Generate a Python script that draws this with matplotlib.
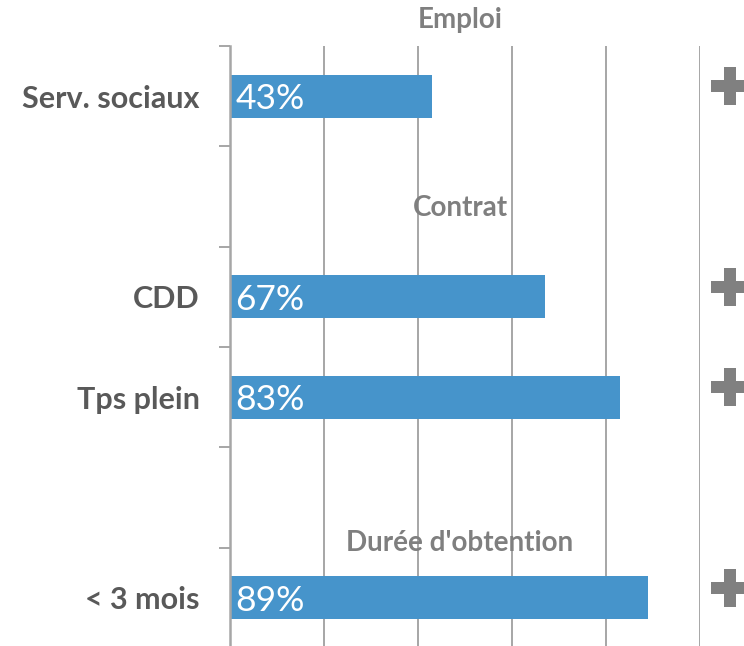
import numpy as np
import matplotlib.pyplot as plt
import matplotlib.patches as mpatches

plt.rcParams['font.family'] = ['Lato', 'DejaVu Sans']

categories = ["Serv. sociaux", "", "CDD", "Tps plein", "", "< 3 mois"]
values = [43, np.nan, 67, 83, np.nan, 89]
value_labels = ["43%", "", "67%", "83%", "", "89%"]
headers = ["Emploi", "Contrat", "Durée d'obtention"]
header_pos = [-0.76, 1.115, 4.455]

bar_color = '#4694CB'
grid_color = '#A6A6A6'

fig = plt.figure(figsize=(7.44, 6.46), dpi=100)
ax = fig.add_axes([229.5 / 744, -2 / 646, 470.5 / 744, 602 / 646])

y = np.arange(len(categories))
ax.barh(y, values, height=0.43, color=bar_color, zorder=3)

for i, v in enumerate(values):
    if np.isnan(v):
        continue
    ax.text(1.2, y[i] + 0.03, value_labels[i], color='white', fontsize=25.5,
            va='center', ha='left', zorder=4)
    ax.plot(106.3, y[i] - 0.1, marker='P', markersize=27, color='#808080',
            markeredgewidth=0, clip_on=False, zorder=4)

ax.set_xlim(0, 100)
ax.set_ylim(5.5, -0.5)
ax.set_xticks([0, 20, 40, 60, 80, 100])
ax.tick_params(axis='x', bottom=False, labelbottom=False)
ax.grid(axis='x', color=grid_color, linewidth=1.4, zorder=0)

ax.set_yticks(y)
ax.set_yticklabels(categories, fontsize=22, fontweight='bold', color='#595959')
ax.tick_params(axis='y', which='major', length=0, pad=21.5)
ax.set_yticks(np.arange(-0.5, 6.0, 1.0), minor=True)
ax.tick_params(axis='y', which='minor', length=8, width=1.4, color=grid_color)

for s in ['top', 'right', 'bottom']:
    ax.spines[s].set_visible(False)
ax.spines['left'].set_color(grid_color)
ax.spines['left'].set_linewidth(1.8)
ax.spines['left'].set_zorder(5)

# white boxes behind section headers
ax.add_patch(mpatches.Rectangle((15, 0.557), 48, 0.777, facecolor='white',
                                edgecolor='none', zorder=1))
ax.add_patch(mpatches.Rectangle((15, 4.196), 48, 0.508, facecolor='white',
                                edgecolor='none', zorder=1))

for h, p in zip(headers, header_pos):
    ax.text(49, p, h, ha='center', va='center', fontsize=20, fontweight='bold',
            color='#7F7F7F', zorder=2, clip_on=False)

fig.savefig('out.png', dpi=100)
